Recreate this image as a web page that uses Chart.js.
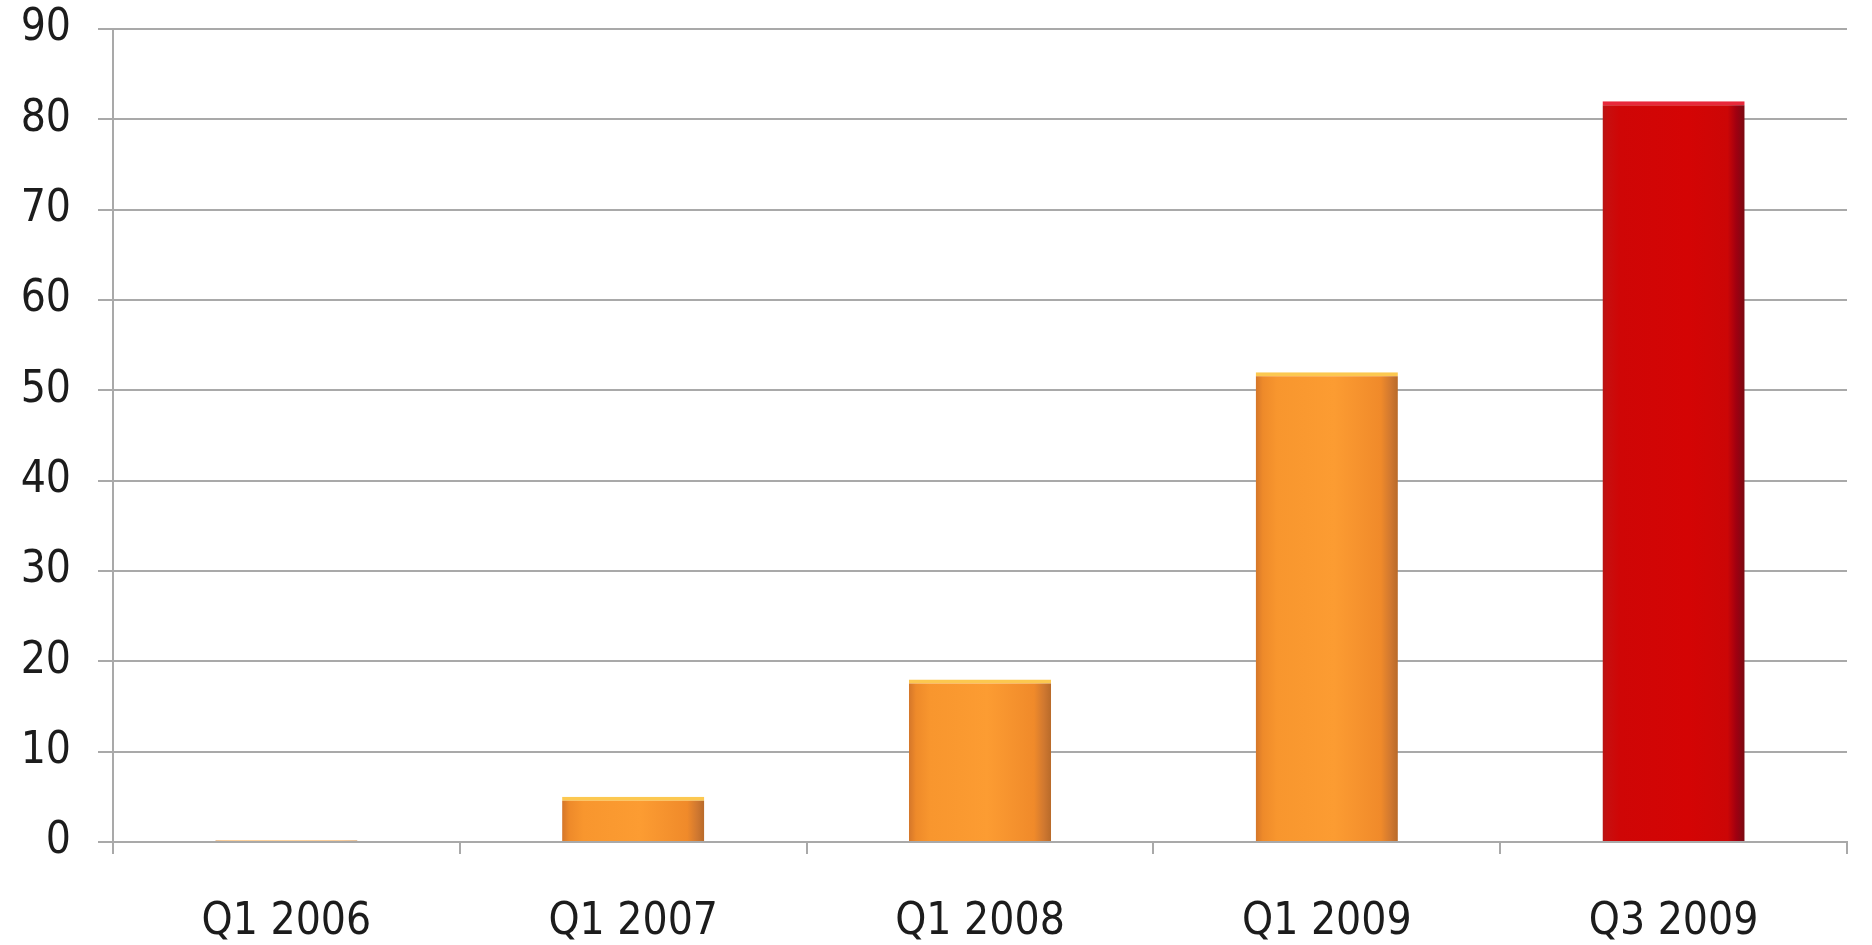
<!DOCTYPE html>
<html>
<head>
<meta charset="utf-8">
<script src="https://cdn.jsdelivr.net/npm/chart.js@4"></script>
<style>
  html, body { margin: 0; padding: 0; background: #fff; }
  #wrap { width: 1872px; height: 945px; position: relative; }
</style>
</head>
<body>
<div id="wrap"><canvas id="bar"></canvas></div>
<script>
const quarters = ['Q1 2006', 'Q1 2007', 'Q1 2008', 'Q1 2009', 'Q3 2009'];
const values = [0.2, 5, 18, 52, 82];
const yTicks = [0, 10, 20, 30, 40, 50, 60, 70, 80, 90];

const gridColor = '#a9a9a9';
const textColor = '#1c1c1c';
const labelFont = { family: "'DejaVu Sans Condensed', 'DejaVu Sans'", size: 44 };
const barPct = 0.41;

// orange for the earlier quarters, red for the latest one;
// shaded left to right across each bar
function barFill(ctx) {
  const chart = ctx.chart;
  const xScale = chart.scales.x;
  const last = ctx.dataIndex === quarters.length - 1;
  if (!chart.chartArea || !xScale) return last ? '#d20404' : '#f99630';
  const cx = xScale.getPixelForValue(ctx.dataIndex);
  const half = xScale.width / quarters.length * barPct / 2;
  const g = chart.ctx.createLinearGradient(cx - half, 0, cx + half, 0);
  if (last) {
    g.addColorStop(0, '#b81414');
    g.addColorStop(0.04, '#c80e0e');
    g.addColorStop(0.12, '#cf0606');
    g.addColorStop(0.6, '#d40404');
    g.addColorStop(0.88, '#cc0606');
    g.addColorStop(0.94, '#a00010');
    g.addColorStop(1, '#7a0a12');
  } else {
    g.addColorStop(0, '#d4762a');
    g.addColorStop(0.05, '#ee8a2a');
    g.addColorStop(0.15, '#f8962e');
    g.addColorStop(0.55, '#fc9c32');
    g.addColorStop(0.88, '#f08a2a');
    g.addColorStop(0.95, '#d07830');
    g.addColorStop(1, '#b86a2a');
  }
  return g;
}

const chart = new Chart(document.getElementById('bar'), {
  type: 'bar',
  data: {
    labels: quarters,
    datasets: [{
      data: values,
      backgroundColor: barFill,
      borderColor: ctx => ctx.dataIndex === quarters.length - 1 ? '#e8283a' : '#fcc850',
      borderWidth: { top: 4, left: 0, right: 0, bottom: 0 },
      borderSkipped: 'bottom',
      categoryPercentage: 1,
      barPercentage: barPct
    }]
  },
  options: {
    responsive: true,
    maintainAspectRatio: false,
    animation: false,
    layout: { padding: { top: 29, right: 25, bottom: 0, left: 0 } },
    plugins: {
      legend: { display: false },
      tooltip: { enabled: false }
    },
    scales: {
      x: {
        grid: {
          drawOnChartArea: false,
          color: gridColor,
          lineWidth: 2,
          tickLength: 12
        },
        border: { color: gridColor, width: 2 },
        ticks: {
          color: textColor,
          font: labelFont,
          padding: 42,
          maxRotation: 0
        },
        afterFit: scale => { scale.height = 103; }
      },
      y: {
        min: 0,
        max: 90,
        afterBuildTicks: scale => { scale.ticks = yTicks.map(v => ({ value: v })); },
        grid: {
          color: gridColor,
          lineWidth: 2,
          tickLength: 15
        },
        border: { color: gridColor, width: 2 },
        ticks: {
          color: textColor,
          font: labelFont,
          padding: 27
        },
        afterFit: scale => {
          scale.width = 113;
          scale.paddingTop = 0;
          scale.paddingBottom = 0;
        }
      }
    }
  }
});
</script>
</body>
</html>
